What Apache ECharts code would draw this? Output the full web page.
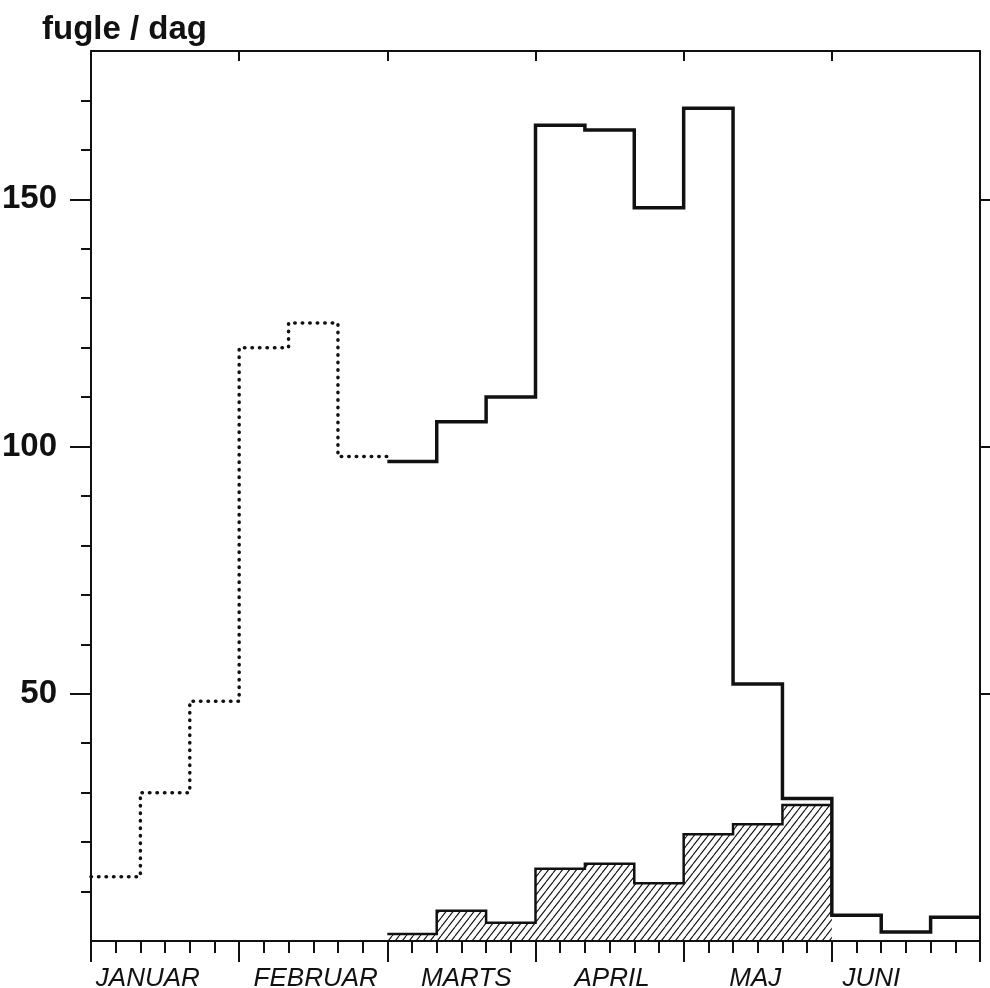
<!DOCTYPE html>
<html>
<head>
<meta charset="utf-8">
<script src="https://cdn.jsdelivr.net/npm/echarts@6/dist/echarts.min.js"></script>
<style>
html,body{margin:0;padding:0;background:#fff;}
#chart{width:990px;height:988px;}
</style>
</head>
<body>
<div id="chart"></div>
<script>
// ---- data (x unit = 5-day period; each value covers a 10-day period, 3 per month, Jan..Jun) ----
const months = ['JANUAR', 'FEBRUAR', 'MARTS', 'APRIL', 'MAJ', 'JUNI'];
const monthLabelPos = [2.3, 9.1, 15.2, 21.1, 26.9, 31.6]; // in 5-day units
const dottedStart = 0;
const dottedValues = [13, 30, 48.5, 120, 125, 98];
const solidStart = 6;
const solidValues = [97, 105, 110, 165, 164, 148.3, 168.4, 52, 28.8, 5.2, 1.8, 4.8];
const hatchStart = 6;
const hatchValues = [1.4, 6.1, 3.7, 14.6, 15.6, 11.7, 21.6, 23.6, 27.5];
const yMajorTicks = [50, 100, 150];
const yMinorTicks = [10, 20, 30, 40, 60, 70, 80, 90, 110, 120, 130, 140, 160, 170];
const xMonthTicks = [0, 6, 12, 18, 24, 30, 36];
const xPentadTicks = [];
for (let i = 0; i <= 36; i++) xPentadTicks.push(i);

// step series points: each 10-day period spans 2 five-day units
function stepData(start, values) {
  const pts = values.map((v, i) => [2 * (start + i), v]);
  pts.push([2 * (start + values.length), values[values.length - 1]]);
  return pts;
}

// hatch pattern
const pat = document.createElement('canvas');
pat.width = 7; pat.height = 9;
const pc = pat.getContext('2d');
pc.strokeStyle = '#111';
pc.lineWidth = 1.1;
pc.beginPath();
for (let k = -1; k <= 1; k++) {
  pc.moveTo(k * 7, 9);
  pc.lineTo(k * 7 + 7, 0);
}
pc.stroke();

const black = '#111';
const chart = echarts.init(document.getElementById('chart'), null, {renderer: 'canvas'});
const labelPosMonth = {};
monthLabelPos.forEach((p, i) => { labelPosMonth[p] = months[i]; });

chart.setOption({
  animation: false,
  backgroundColor: '#fff',
  title: {
    text: 'fugle / dag',
    left: 42, top: 13, padding: 0,
    textStyle: {fontFamily: 'Liberation Sans', fontWeight: 'bold', fontSize: 33, color: black}
  },
  grid: {left: 91, right: 10, top: 51, bottom: 47, outerBoundsMode: 'none', containLabel: false},
  xAxis: [
    {
      type: 'value', position: 'bottom', min: 0, max: 36,
      axisLine: {show: true, onZero: false, lineStyle: {color: black, width: 2}},
      axisTick: {show: true, length: 12, customValues: xPentadTicks, lineStyle: {color: black, width: 2}},
      axisLabel: {
        show: true, customValues: monthLabelPos, margin: 25, hideOverlap: false,
        showMinLabel: true, showMaxLabel: true,
        formatter: v => labelPosMonth[v] || '',
        fontFamily: 'Liberation Sans', fontStyle: 'italic', fontSize: 26, color: black
      },
      splitLine: {show: false}
    },
    {
      type: 'value', position: 'bottom', min: 0, max: 36,
      axisLine: {show: false, onZero: false},
      axisTick: {show: true, length: 21, customValues: xMonthTicks, lineStyle: {color: black, width: 2}},
      axisLabel: {show: false},
      splitLine: {show: false}
    },
    {
      type: 'value', position: 'top', min: 0, max: 36,
      axisLine: {show: true, onZero: false, lineStyle: {color: black, width: 2}},
      axisTick: {show: true, inside: true, length: 10, customValues: xMonthTicks.slice(1, -1), lineStyle: {color: black, width: 2}},
      axisLabel: {show: false},
      splitLine: {show: false}
    }
  ],
  yAxis: [
    {
      type: 'value', position: 'left', min: 0, max: 180,
      axisLine: {show: true, onZero: false, lineStyle: {color: black, width: 2}},
      axisTick: {show: true, length: 10, customValues: yMinorTicks, lineStyle: {color: black, width: 2}},
      axisLabel: {show: false},
      splitLine: {show: false}
    },
    {
      type: 'value', position: 'left', min: 0, max: 180,
      axisLine: {show: false, onZero: false},
      axisTick: {show: true, length: 21, customValues: yMajorTicks, lineStyle: {color: black, width: 2}},
      axisLabel: {
        show: true, customValues: yMajorTicks, margin: 34,
        fontFamily: 'Liberation Sans', fontWeight: 'bold', fontSize: 33, color: black
      },
      splitLine: {show: false}
    },
    {
      type: 'value', position: 'right', min: 0, max: 180,
      axisLine: {show: true, onZero: false, lineStyle: {color: black, width: 2}},
      axisTick: {show: true, length: 10, customValues: yMajorTicks, lineStyle: {color: black, width: 2}},
      axisLabel: {show: false},
      splitLine: {show: false}
    }
  ],
  series: [
    {
      type: 'line', step: 'end', xAxisIndex: 0, yAxisIndex: 0,
      data: stepData(hatchStart, hatchValues),
      symbol: 'none', z: 2,
      lineStyle: {color: black, width: 2.5, join: 'miter'},
      areaStyle: {color: {image: pat, repeat: 'repeat'}, opacity: 1}
    },
    {
      type: 'line', step: 'end', xAxisIndex: 0, yAxisIndex: 0,
      data: stepData(solidStart, solidValues),
      symbol: 'none', z: 3,
      lineStyle: {color: black, width: 3.5, join: 'miter'}
    },
    {
      type: 'line', step: 'end', xAxisIndex: 0, yAxisIndex: 0,
      data: stepData(dottedStart, dottedValues),
      symbol: 'none', z: 3,
      lineStyle: {color: black, width: 3.5, type: [0.5, 7], cap: 'round', join: 'round'}
    }
  ]
});
</script>
</body>
</html>
